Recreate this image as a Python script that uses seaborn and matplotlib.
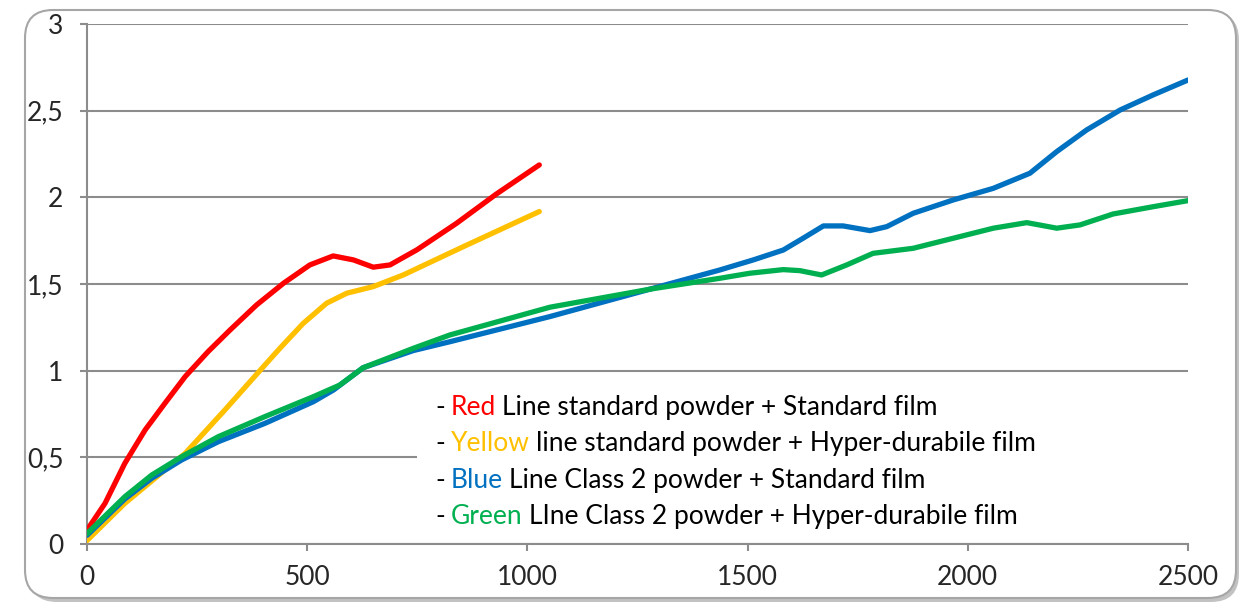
import numpy as np
import pandas as pd
import matplotlib.pyplot as plt
import seaborn as sns
from matplotlib.patches import FancyBboxPatch, Rectangle
from matplotlib.transforms import IdentityTransform

# values
red_x = [0, 41, 86, 132, 177, 223, 275, 325, 385, 446, 506, 559, 605, 650, 688, 749, 839, 930, 1027]
red_y = [0.08, 0.235, 0.466, 0.658, 0.812, 0.966, 1.11, 1.235, 1.379, 1.504, 1.61, 1.662, 1.639,
         1.597, 1.61, 1.697, 1.85, 2.02, 2.187]

yellow_x = [0, 86, 177, 223, 313, 404, 438, 491, 544, 590, 650, 718, 855, 1027]
yellow_y = [0.02, 0.235, 0.427, 0.523, 0.773, 1.033, 1.129, 1.273, 1.389, 1.447, 1.485, 1.552,
            1.716, 1.918]

blue_x = [0, 86, 147, 215, 298, 404, 514, 560, 627, 741, 824, 1051, 1278, 1437, 1513, 1581,
          1626, 1672, 1717, 1778, 1816, 1876, 1967, 2058, 2141, 2202, 2270, 2346, 2421, 2500]
blue_y = [0.05, 0.26, 0.379, 0.485, 0.59, 0.696, 0.821, 0.889, 1.017, 1.116, 1.167, 1.312, 1.47,
          1.581, 1.639, 1.696, 1.764, 1.835, 1.835, 1.808, 1.831, 1.908, 1.985, 2.052, 2.139,
          2.264, 2.389, 2.504, 2.591, 2.677]

green_x = [0, 86, 147, 215, 298, 404, 514, 574, 627, 741, 824, 1051, 1278, 1437, 1505, 1581,
           1619, 1668, 1725, 1785, 1876, 1967, 2058, 2134, 2202, 2255, 2330, 2421, 2500]
green_y = [0.06, 0.273, 0.398, 0.504, 0.619, 0.735, 0.85, 0.917, 1.017, 1.129, 1.206, 1.366,
           1.47, 1.533, 1.562, 1.583, 1.577, 1.552, 1.61, 1.677, 1.706, 1.764, 1.822, 1.854,
           1.822, 1.841, 1.904, 1.946, 1.981]

colors = {"Red": "#FF0000", "Yellow": "#FFC000", "Blue": "#0070C0", "Green": "#00B050"}
legend_words = ["Red", "Yellow", "Blue", "Green"]
legend_rest = ["Line standard powder + Standard film",
               "line standard powder + Hyper-durabile film",
               "Line Class 2 powder + Standard film",
               "LIne Class 2 powder + Hyper-durabile film"]

y_ticks = [0, 0.5, 1, 1.5, 2, 2.5, 3]
y_labels = ["0", "0,5", "1", "1,5", "2", "2,5", "3"]
x_ticks = [0, 500, 1000, 1500, 2000, 2500]

sns.set_style("white")
plt.rcParams["font.family"] = ["Lato", "DejaVu Sans"]

fig = plt.figure(figsize=(12.45, 6.08), dpi=100)

# rounded frame with a soft shadow
shadow = FancyBboxPatch((29, 6), 1210, 590, boxstyle="round,pad=0,rounding_size=28",
                        transform=IdentityTransform(), facecolor="#9a9a9a", edgecolor="none",
                        alpha=0.6, zorder=-2)
frame = FancyBboxPatch((25, 10), 1211, 588, boxstyle="round,pad=0,rounding_size=28",
                       transform=IdentityTransform(), facecolor="white", edgecolor="#a6a6a6",
                       linewidth=1.5, zorder=-1)
fig.patches.extend([shadow, frame])

ax = fig.add_axes([87 / 1245, 1 - 544 / 608, (1188 - 87) / 1245, (544 - 24) / 608])
ax.set_facecolor("none")

series = [(red_x, red_y, "Red"), (yellow_x, yellow_y, "Yellow"),
          (blue_x, blue_y, "Blue"), (green_x, green_y, "Green")]
for xs, ys, name in series:
    sns.lineplot(x=xs, y=ys, ax=ax, color=colors[name], linewidth=3.8,
                 solid_capstyle="round", solid_joinstyle="round", zorder=3)

ax.set_xlim(0, 2500)
ax.set_ylim(0, 3)
ax.set_yticks(y_ticks)
ax.set_yticklabels(y_labels)
ax.set_xticks(x_ticks)
ax.set_xticklabels([str(t) for t in x_ticks])

grid_c = "#8c8c8c"
ax.yaxis.grid(True, color=grid_c, linewidth=1.5)
ax.xaxis.grid(False)
for side in ["top", "right"]:
    ax.spines[side].set_visible(False)
for side in ["left", "bottom"]:
    ax.spines[side].set_color(grid_c)
    ax.spines[side].set_linewidth(1.5)
ax.tick_params(axis="y", length=5, width=1.5, color=grid_c, pad=12, labelsize=19, direction="out")
ax.tick_params(axis="x", length=5, width=1.5, color=grid_c, pad=10, labelsize=19, direction="out")
ax.tick_params(left=True, bottom=True)
ax.set_axisbelow(True)

# legend written as coloured text inside a white box
ax.add_patch(Rectangle((749, 0.05), 1800, 0.87, facecolor="white", edgecolor="none", zorder=2))
for i, (word, rest) in enumerate(zip(legend_words, legend_rest)):
    y = 0.785 - i * 0.208
    t0 = ax.text(790, y, "-", fontsize=19, color="black", va="center", zorder=4)
    t1 = ax.annotate(word, xy=(1, 0), xycoords=t0, xytext=(4.5, 0), textcoords="offset points",
                     fontsize=19, color=colors[word], va="bottom", zorder=4)
    ax.annotate(rest, xy=(1, 0), xycoords=t1, xytext=(4.5, 0), textcoords="offset points",
                fontsize=19, color="black", va="bottom", zorder=4)

fig.savefig("out.png", dpi=100)
